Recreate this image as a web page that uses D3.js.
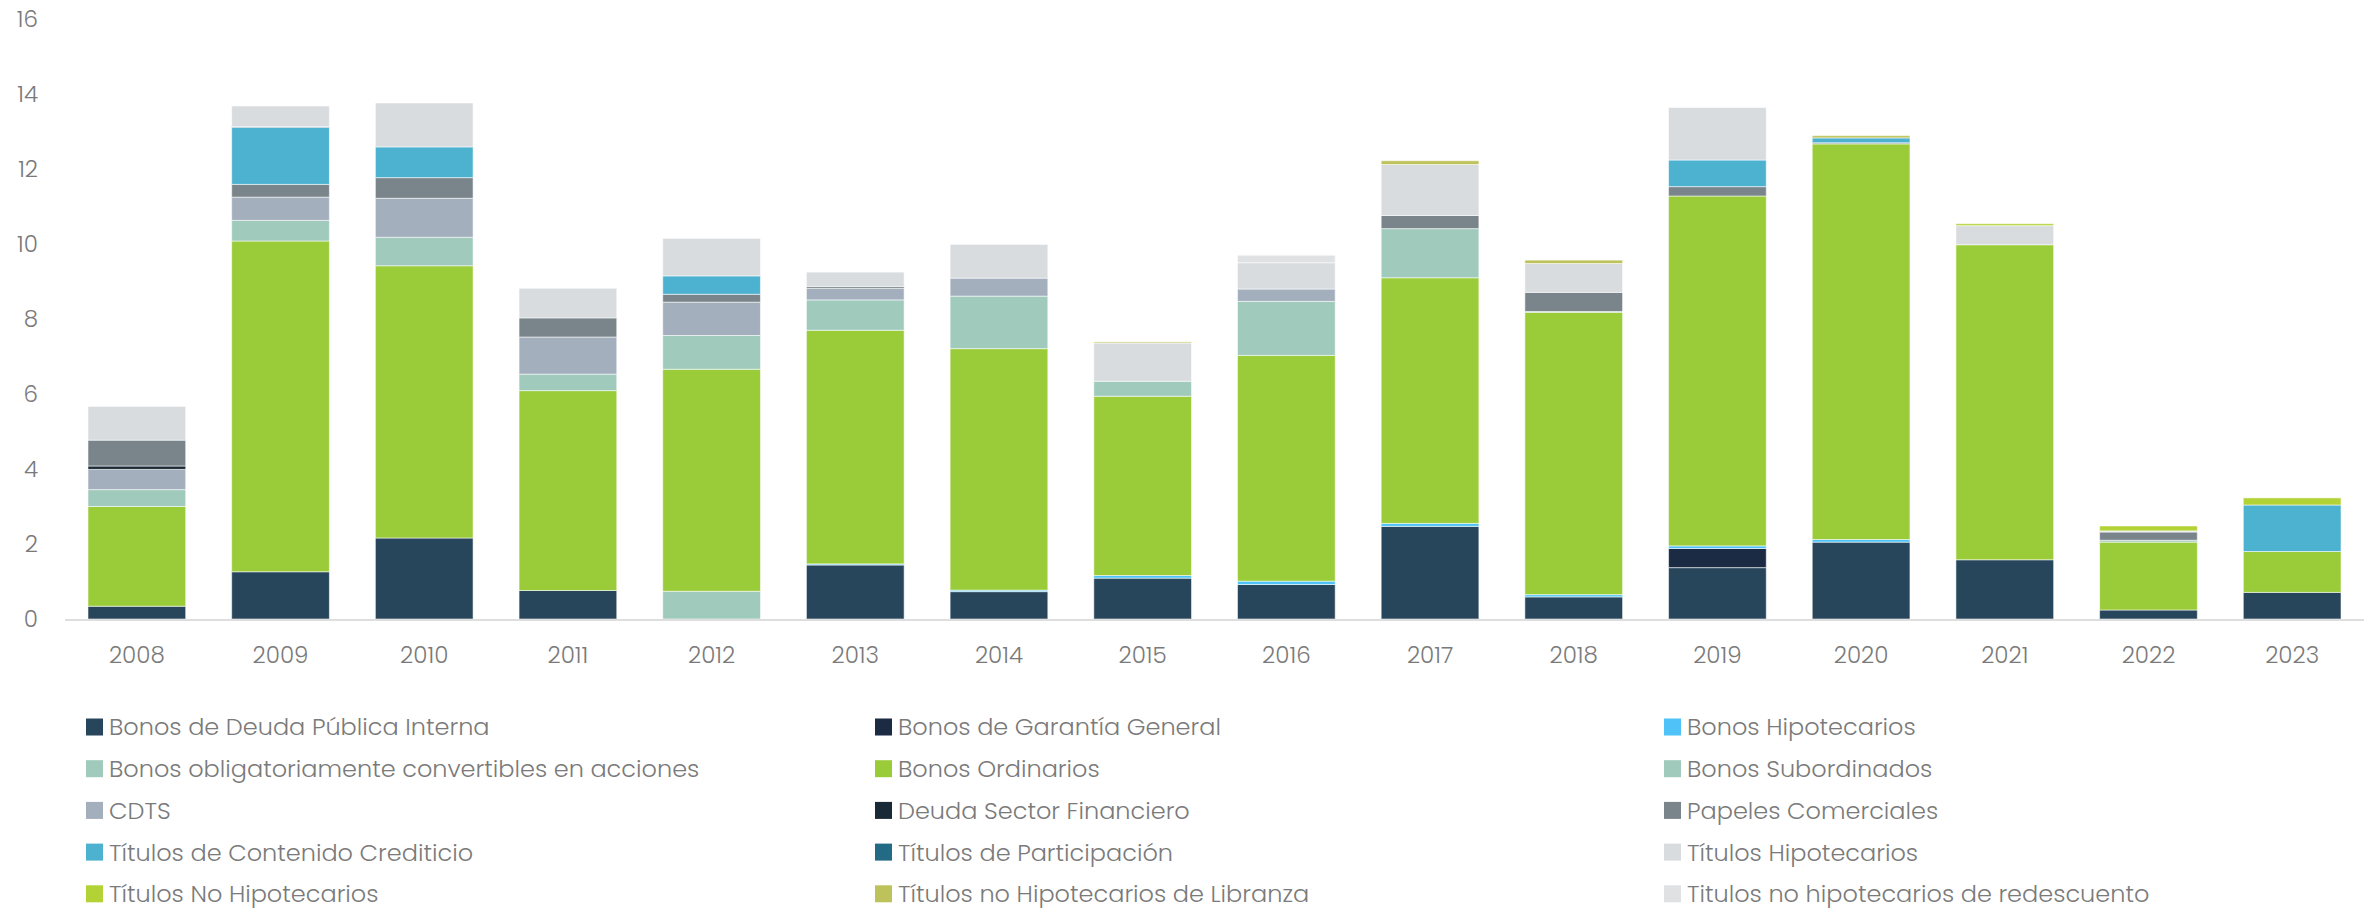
<!DOCTYPE html>
<html>
<head>
<meta charset="utf-8">
<script src="https://cdn.jsdelivr.net/npm/d3@7"></script>
<style>
  html, body { margin: 0; padding: 0; background: #ffffff; }
  svg { display: block; }
  text { font-family: Poppins, Lato, "Open Sans", sans-serif; font-weight: 300; fill: #7a7a7a; }
</style>
</head>
<body>
<svg id="chart" width="2374" height="910"></svg>
<script>
// Years on the x axis
const years = ["2008","2009","2010","2011","2012","2013","2014","2015","2016","2017","2018","2019","2020","2021","2022","2023"];

// Instrument types, in stacking order (bottom to top) and legend order
const seriesNames = [
  "Bonos de Deuda Pública Interna",
  "Bonos de Garantía General",
  "Bonos Hipotecarios",
  "Bonos obligatoriamente convertibles en acciones",
  "Bonos Ordinarios",
  "Bonos Subordinados",
  "CDTS",
  "Deuda Sector Financiero",
  "Papeles Comerciales",
  "Títulos de Contenido Crediticio",
  "Títulos de Participación",
  "Títulos Hipotecarios",
  "Títulos No Hipotecarios",
  "Títulos no Hipotecarios de Libranza",
  "Titulos no hipotecarios de redescuento"
];

const seriesColors = [
  "#28465b", "#1c2b44", "#4fc3f7", "#9fcabc", "#9acb38",
  "#9fcabc", "#a4afbd", "#1a2936", "#7a858b", "#4db2cf",
  "#236a84", "#d8dcdf", "#b2d235", "#bec25a", "#dfe1e3"
];

// Values per year, one array per instrument type
const bonosDeudaPublicaInterna  = [0.34, 1.26, 2.16, 0.76, 0.00, 1.44, 0.73, 1.09, 0.92, 2.47, 0.59, 1.37, 2.05, 1.58, 0.24, 0.71];
const bonosGarantiaGeneral      = [0,    0,    0,    0,    0,    0,    0,    0,    0,    0,    0,    0.51, 0,    0,    0,    0];
const bonosHipotecarios         = [0,    0,    0,    0,    0,    0.03, 0.04, 0.07, 0.09, 0.08, 0.06, 0.07, 0.07, 0,    0,    0];
const bonosConvertibles         = [0,    0,    0,    0,    0.74, 0,    0,    0,    0,    0,    0,    0,    0,    0,    0,    0];
const bonosOrdinarios           = [2.66, 8.82, 7.26, 5.33, 5.92, 6.23, 6.44, 4.78, 6.02, 6.55, 7.53, 9.33, 10.55, 8.40, 1.81, 1.09];
const bonosSubordinados         = [0.45, 0.55, 0.76, 0.44, 0.90, 0.81, 1.40, 0.40, 1.44, 1.31, 0.02, 0,    0,    0,    0.05, 0];
const cdts                      = [0.54, 0.62, 1.04, 0.99, 0.89, 0.31, 0.48, 0,    0.33, 0,    0,    0,    0,    0,    0,    0];
const deudaSectorFinanciero     = [0.09, 0,    0,    0,    0,    0,    0,    0,    0,    0,    0,    0,    0,    0,    0,    0];
const papelesComerciales        = [0.69, 0.34, 0.55, 0.51, 0.21, 0.05, 0,    0,    0,    0.35, 0.51, 0.25, 0.03, 0,    0.22, 0];
const titulosContenidoCrediticio= [0,    1.52, 0.82, 0,    0.49, 0,    0,    0,    0,    0,    0,    0.71, 0.13, 0,    0,    1.24];
const titulosParticipacion      = [0,    0.02, 0,    0,    0,    0,    0,    0,    0,    0,    0,    0,    0,    0,    0,    0];
const titulosHipotecarios       = [0.90, 0.55, 1.17, 0.79, 1.00, 0.38, 0.90, 1.02, 0.70, 1.36, 0.77, 1.40, 0,    0.51, 0.03, 0];
const titulosNoHipotecarios     = [0,    0,    0,    0,    0,    0,    0,    0,    0,    0,    0,    0,    0,    0.05, 0.13, 0.19];
const titulosLibranza           = [0,    0,    0,    0,    0,    0,    0,    0.03, 0,    0.10, 0.09, 0,    0.06, 0,    0,    0];
const titulosRedescuento        = [0,    0,    0,    0,    0,    0,    0,    0,    0.20, 0,    0,    0,    0,    0,    0,    0];

const seriesValues = [
  bonosDeudaPublicaInterna, bonosGarantiaGeneral, bonosHipotecarios, bonosConvertibles,
  bonosOrdinarios, bonosSubordinados, cdts, deudaSectorFinanciero, papelesComerciales,
  titulosContenidoCrediticio, titulosParticipacion, titulosHipotecarios,
  titulosNoHipotecarios, titulosLibranza, titulosRedescuento
];

const yTicks = [0, 2, 4, 6, 8, 10, 12, 14, 16];

// Table for d3.stack: one row per year, one column per series
const rows = years.map((y, i) => {
  const r = { year: y };
  seriesNames.forEach((name, k) => { r[name] = seriesValues[k][i]; });
  return r;
});

const svg = d3.select("#chart");

const x = d3.scaleBand()
  .domain(years)
  .range([65, 2364])
  .paddingInner(0.32)
  .paddingOuter(0.16);

const y = d3.scaleLinear()
  .domain([0, 16])
  .range([619, 19]);

const stacked = d3.stack().keys(seriesNames)(rows);

// Stacked bars
const layers = svg.append("g")
  .selectAll("g")
  .data(stacked)
  .join("g")
  .attr("fill", (d, i) => seriesColors[i]);

layers.selectAll("rect")
  .data(d => d.filter(p => p[1] - p[0] > 0))
  .join("rect")
  .attr("x", d => x(d.data.year))
  .attr("width", x.bandwidth())
  .attr("y", d => y(d[1]))
  .attr("height", d => y(d[0]) - y(d[1]))
  .attr("stroke", "#ffffff")
  .attr("stroke-opacity", 0.55)
  .attr("stroke-width", 1);

// Baseline
svg.append("line")
  .attr("x1", 65).attr("x2", 2364)
  .attr("y1", y(0) + 1).attr("y2", y(0) + 1)
  .attr("stroke", "#dedede")
  .attr("stroke-width", 2);

// Y axis labels
const yAxis = svg.append("g")
  .attr("transform", "translate(38,0)")
  .call(d3.axisLeft(y).tickValues(yTicks).tickSize(0).tickPadding(0).tickFormat(d3.format("d")));
yAxis.select(".domain").remove();
yAxis.selectAll("text")
  .attr("fill", "#7a7a7a")
  .style("font-size", "23px")
  .style("font-family", null);

// X axis labels
const xAxis = svg.append("g")
  .attr("transform", `translate(0,${y(0)})`)
  .call(d3.axisBottom(x).tickSize(0).tickPadding(28));
xAxis.select(".domain").remove();
xAxis.selectAll("text")
  .attr("fill", "#7a7a7a")
  .style("font-size", "23px")
  .style("font-family", null);

// Legend: three columns, filled row by row
const legendCols = [86, 875, 1664];
const legendRowY = 727;
const legendRowStep = 41.7;
const legend = svg.append("g")
  .selectAll("g")
  .data(seriesNames)
  .join("g")
  .attr("transform", (d, i) => `translate(${legendCols[i % 3]},${legendRowY + Math.floor(i / 3) * legendRowStep})`);

legend.append("rect")
  .attr("x", 0)
  .attr("y", -8.5)
  .attr("width", 17)
  .attr("height", 17)
  .attr("fill", (d, i) => seriesColors[i]);

legend.append("text")
  .attr("x", 23)
  .attr("y", 0)
  .attr("dy", "0.35em")
  .style("font-size", "24px")
  .text(d => d);
</script>
</body>
</html>
